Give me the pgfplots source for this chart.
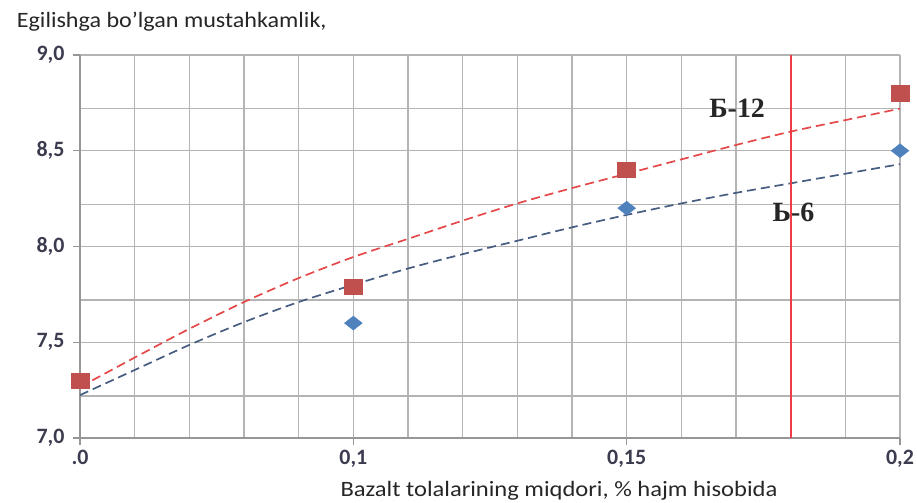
\documentclass[border=0pt]{standalone}
\usepackage{pgfplots}
\pgfplotsset{compat=1.18}
\usepackage{fontspec}
\setmainfont{Carlito}
\newfontfamily\serifb{Liberation Serif}
\definecolor{gridc}{RGB}{180,180,180}
\definecolor{axc}{RGB}{150,150,150}
\definecolor{sqred}{RGB}{192,80,77}
\definecolor{dmblue}{RGB}{79,129,189}
\definecolor{trred}{RGB}{228,72,72}
\definecolor{trblue}{RGB}{70,92,128}
\definecolor{vred}{RGB}{240,60,70}
\definecolor{tickc}{RGB}{60,60,80}
\begin{document}
\begin{tikzpicture}
\useasboundingbox (-80bp,-65bp) rectangle (837bp,438bp);
\begin{axis}[
  at={(0,0)}, anchor=south west,
  scale only axis, width=820bp, height=383bp,
  xmin=0, xmax=15, ymin=7, ymax=9,
  axis lines=left, axis line style={-, draw=axc, line width=1.5bp},
  xtick={0,5,10,15}, xticklabels={{.0},{0,1},{0,15},{0,2}},
  minor xtick={1,2,3,4,6,7,8,9,11,12,14},
  ytick={7,7.5,8,8.5,9}, yticklabels={{7,0},{7,5},{8,0},{8,5},{9,0}},
  minor ytick={7.22,7.72,8.22,8.72},
  grid=both,
  major grid style={draw=gridc, line width=1.4bp},
  minor grid style={draw=gridc, line width=1.4bp},
  tick align=outside, major tick length=7bp, minor tick length=0pt,
  tick style={draw=axc, line width=1.4bp},
  ticklabel style={font=\fontsize{22}{24}\selectfont\bfseries, text=tickc},
  xticklabel style={yshift=-2bp},
  yticklabel style={xshift=-5bp},
  clip=false,
]
% trend lines
\addplot[trred, dash pattern=on 9bp off 5bp, line width=1.7bp, smooth, tension=0.5]
  coordinates {(0,7.266) (1,7.42) (2,7.57) (3,7.71) (4,7.835) (5,7.945) (6,8.04) (7,8.135) (8,8.225) (9,8.305) (10,8.38) (11,8.455) (12,8.53) (13,8.60) (14,8.66) (15,8.72)};
\addplot[trblue, dash pattern=on 9bp off 5bp, line width=1.7bp, smooth, tension=0.5]
  coordinates {(0,7.224) (1,7.355) (2,7.486) (3,7.605) (4,7.71) (5,7.80) (6,7.885) (7,7.96) (8,8.03) (9,8.10) (10,8.165) (11,8.225) (12,8.28) (13,8.33) (14,8.38) (15,8.43)};
% vertical red line
\addplot[vred, line width=1.7bp] coordinates {(13,7) (13,9)};
% data
\addplot[only marks, mark=diamond*, mark size=7bp, color=dmblue, mark options={xscale=1.7}]
  coordinates {(0,7.3) (5,7.6) (10,8.2) (15,8.5)};
\addplot[only marks, mark=square*, mark size=9bp, color=sqred, mark options={yscale=0.85}]
  coordinates {(0,7.3) (5,7.79) (10,8.4) (15,8.8)};
\node[font=\serifb\bfseries\fontsize{28}{30}\selectfont, text=black!85] at (axis cs:12.02,8.72) {Б-12};
\node[font=\serifb\bfseries\fontsize{28}{30}\selectfont, text=black!85] at (axis cs:13.05,8.18) {Ь-6};
\end{axis}
\node[anchor=west, xscale=1.1, font=\fontsize{22}{24}\selectfont, text=black!85] at (-67bp,416bp) {Egilishga bo'lgan mustahkamlik,};
\node[anchor=base, xscale=1.12, font=\fontsize{22}{24}\selectfont, text=black!85] at (479bp,-58bp) {Bazalt tolalarining miqdori, \% hajm hisobida};
\end{tikzpicture}
\end{document}
